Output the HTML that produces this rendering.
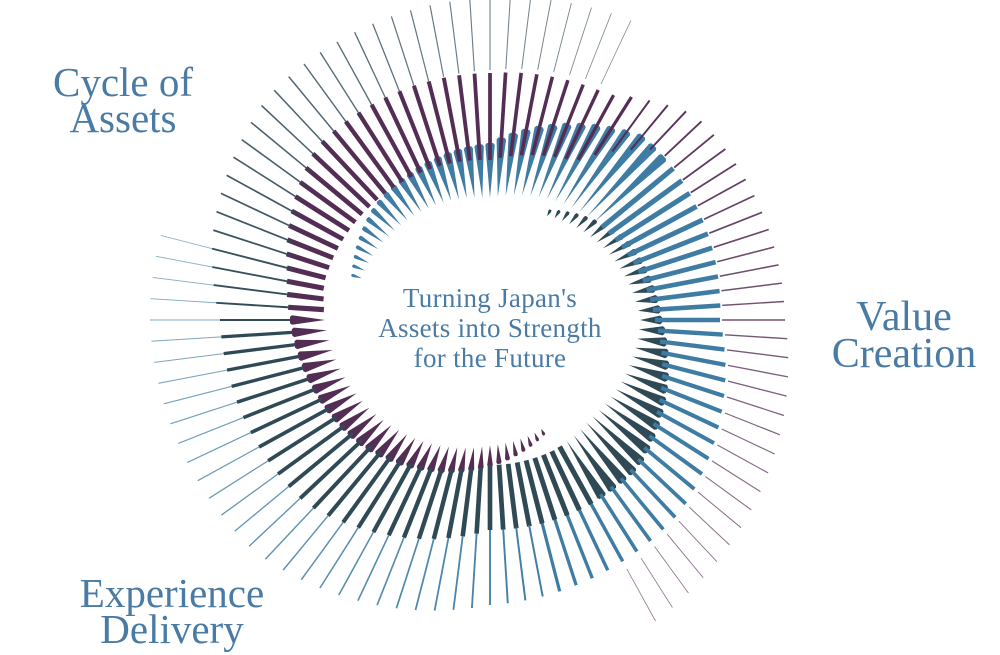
<!DOCTYPE html>
<html><head><meta charset="utf-8"><style>
html,body{margin:0;padding:0;background:#fff;}
svg{display:block;}
.t{font-family:"Liberation Serif","DejaVu Serif",serif;fill:#4a7ba4;text-anchor:middle;}
</style></head><body>
<svg id="s" width="1000" height="655" viewBox="0 0 1000 655" xmlns="http://www.w3.org/2000/svg">
<g id="l0"></g><g id="l1"></g><g id="l2"></g>
<text class="t" x="123" y="96" font-size="41">Cycle of</text>
<text class="t" x="123" y="132" font-size="41">Assets</text>
<text class="t" x="904" y="330" font-size="42">Value</text>
<text class="t" x="904" y="367" font-size="42">Creation</text>
<text class="t" x="172" y="607" font-size="41">Experience</text>
<text class="t" x="172" y="643" font-size="41">Delivery</text>
<text class="t" x="490" y="307" font-size="27" letter-spacing="0.3">Turning Japan's</text>
<text class="t" x="490" y="337" font-size="27" letter-spacing="0.3">Assets into Strength</text>
<text class="t" x="490" y="367" font-size="27" letter-spacing="0.3">for the Future</text>
</svg>
<script>
(function(){
var cx=490,cy=320;
var spirals=[
 {s:287,c:"#3e7ca3",k:[[0,135,145],[28,130,163],[73,122,177],[113,140,240],[163,165,230],[208,205,270],[253,210,285],[298,260,330],[343,270,340],[360,275,340]]},
 {s:153,c:"#542d55",k:[[0,120,126],[27,125,147],[72,145,180],[117,165,200],[130,170,208],[162,165,245],[207,160,247],[235,180,255],[252,240,290],[297,232,295],[342,275,330],[360,285,345]]},
 {s:28,c:"#2f4955",k:[[0,118,125],[32,135,160],[62,150,172],[107,140,210],[125,145,210],[152,145,210],[197,175,260],[242,200,270],[259,205,290],[287,240,315],[332,250,322],[360,262,332]]}
];
function interp(k,d){
 for(var i=0;i<k.length-1;i++){
  if(d>=k[i][0]&&d<=k[i+1][0]){var f=(d-k[i][0])/(k[i+1][0]-k[i][0]);
   return [k[i][1]+f*(k[i+1][1]-k[i][1]),k[i][2]+f*(k[i+1][2]-k[i][2])];}
 }
 return [k[k.length-1][1],k[k.length-1][2]];
}
var o=[[],[],[]];
for(var a=0;a<360;a+=3.6){
 var rad=a*Math.PI/180, ux=Math.sin(rad), uy=-Math.cos(rad), px=-uy, py=ux;
 for(var j=0;j<3;j++){
  var sp=spirals[j];
  var d=((a-sp.s)%360+360)%360;
  var r=interp(sp.k,d), ri=r[0], ro=r[1];
  var x1=cx+ux*ri,y1=cy+uy*ri,x2=cx+ux*ro,y2=cy+uy*ro;
  if(d<120){
   var w=3+6.5*Math.min(1,d/70);
   var ex=cx+ux*(ro-2), ey=cy+uy*(ro-2);
   o[0].push('<polygon fill="'+sp.c+'" points="'+x1.toFixed(1)+','+y1.toFixed(1)+' '+(ex+px*w/2).toFixed(1)+','+(ey+py*w/2).toFixed(1)+' '+(x2+px*w/3).toFixed(1)+','+(y2+py*w/3).toFixed(1)+' '+(x2-px*w/3).toFixed(1)+','+(y2-py*w/3).toFixed(1)+' '+(ex-px*w/2).toFixed(1)+','+(ey-py*w/2).toFixed(1)+'"/>');
  } else if(d<240){
   var w2=5.2-2*((d-120)/120);
   o[1].push('<line x1="'+x1.toFixed(1)+'" y1="'+y1.toFixed(1)+'" x2="'+x2.toFixed(1)+'" y2="'+y2.toFixed(1)+'" stroke="'+sp.c+'" stroke-width="'+w2.toFixed(2)+'"/>');
  } else {
   var w3=2-1.2*((d-240)/120);
   o[2].push('<line x1="'+x1.toFixed(1)+'" y1="'+y1.toFixed(1)+'" x2="'+x2.toFixed(1)+'" y2="'+y2.toFixed(1)+'" stroke="'+sp.c+'" stroke-width="'+w3.toFixed(2)+'" opacity="'+(1-0.4*((d-240)/120)).toFixed(2)+'"/>');
  }
 }
}
document.getElementById("l0").innerHTML=o[0].join("");
document.getElementById("l1").innerHTML=o[1].join("");
document.getElementById("l2").innerHTML=o[2].join("");
})();
</script>
</body></html>
